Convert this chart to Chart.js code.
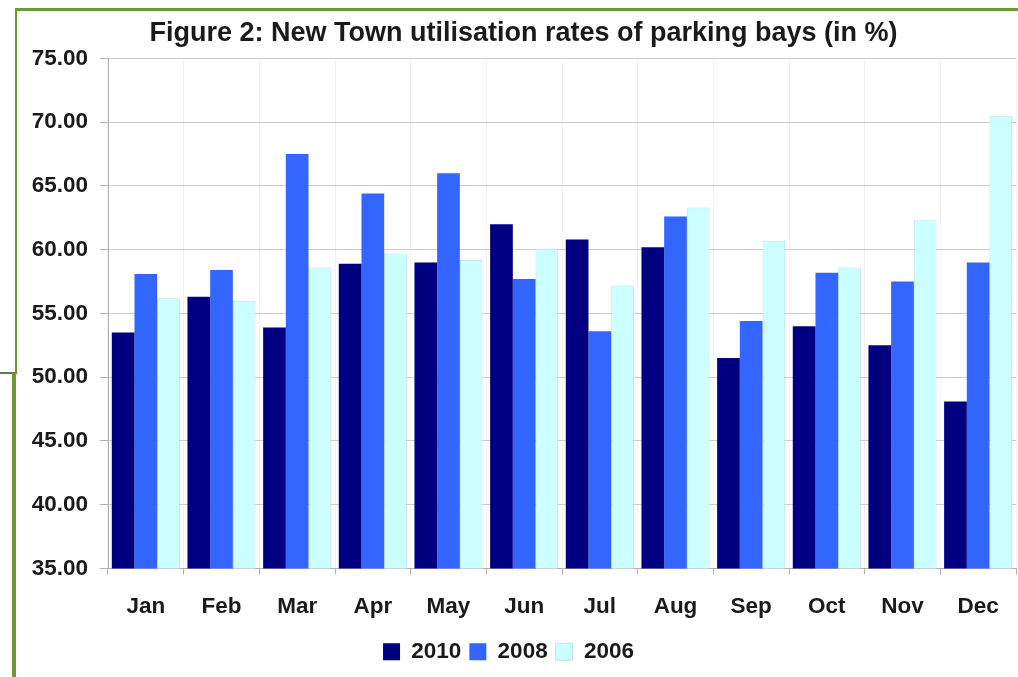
<!DOCTYPE html>
<html>
<head>
<meta charset="utf-8">
<script src="https://cdn.jsdelivr.net/npm/chart.js@4/dist/chart.umd.min.js"></script>
<style>
    html, body { margin: 0; padding: 0; background: #ffffff; }
    #wrap { position: relative; width: 1018px; height: 677px; overflow: hidden; }
    #chart { position: absolute; left: 0; top: 0; }
    .frame { position: absolute; background: #6b9a35; }
</style>
</head>
<body>
<div id="wrap">
    <canvas id="chart" width="1018" height="677"></canvas>
    <!-- green page frame around the figure -->
    <div class="frame" style="left:15px; top:8px; width:1003px; height:3px;"></div>
    <div class="frame" style="left:15px; top:8px; width:2px; height:366px;"></div>
    <div class="frame" style="left:0px; top:372px; width:17px; height:2px; background:#5f7f3c;"></div>
    <div class="frame" style="left:12px; top:373px; width:4px; height:304px;"></div>
</div>
<script>
// month labels and utilisation rates (%)
const months = ['Jan', 'Feb', 'Mar', 'Apr', 'May', 'Jun', 'Jul', 'Aug', 'Sep', 'Oct', 'Nov', 'Dec'];
const rates2010 = [53.5, 56.3, 53.9, 58.9, 59.0, 62.0, 60.8, 60.2, 51.5, 54.0, 52.5, 48.1];
const rates2008 = [58.1, 58.4, 67.5, 64.4, 66.0, 57.7, 53.6, 62.6, 54.4, 58.2, 57.5, 59.0];
const rates2006 = [56.2, 56.0, 58.6, 59.7, 59.2, 60.1, 57.2, 63.3, 60.7, 58.6, 62.3, 70.5];
const yTicks = [35, 40, 45, 50, 55, 60, 65, 70, 75];

const fontFamily = 'Arial, "Liberation Sans", sans-serif';
const labelFont = { family: fontFamily, size: 22.5, weight: 'bold' };

// the legend in the figure sits a bit left of the title's centre
const legendShift = {
    id: 'legendShift',
    afterLayout: function (chart) {
        chart.legend.left -= 15;
        chart.legend.right -= 15;
    }
};

const ctx = document.getElementById('chart').getContext('2d');
const chart = new Chart(ctx, {
    type: 'bar',
    data: {
        labels: months,
        datasets: [{
            label: '2010',
            data: rates2010,
            backgroundColor: '#000080',
            borderWidth: 0
        }, {
            label: '2008',
            data: rates2008,
            backgroundColor: '#3366ff',
            borderWidth: 0
        }, {
            label: '2006',
            data: rates2006,
            backgroundColor: '#ccffff',
            borderColor: '#b9e6e8',
            borderWidth: 1
        }]
    },
    options: {
        responsive: false,
        animation: false,
        layout: {
            padding: { left: 31, right: 2, top: 0, bottom: 4 }
        },
        datasets: {
            bar: { categoryPercentage: 0.9, barPercentage: 1.0 }
        },
        plugins: {
            title: {
                display: true,
                text: 'Figure 2: New Town utilisation rates of parking bays (in %)',
                color: '#1a1a1a',
                font: { family: fontFamily, size: 27, weight: 'bold' },
                padding: { top: 17, bottom: 9 }
            },
            legend: {
                position: 'bottom',
                labels: {
                    color: '#1a1a1a',
                    font: labelFont,
                    boxWidth: 17,
                    boxHeight: 17,
                    padding: 8
                }
            },
            tooltip: { enabled: false }
        },
        scales: {
            x: {
                afterFit: function (axis) {
                    axis.height -= 7;
                },
                grid: {
                    display: true,
                    offset: true,
                    color: 'rgba(0,0,0,0.05)',
                    tickColor: '#b0b0b0',
                    tickLength: 6
                },
                border: { display: true, color: '#b0b0b0' },
                ticks: {
                    color: '#1a1a1a',
                    font: labelFont,
                    padding: 19
                }
            },
            y: {
                min: 35,
                max: 75,
                afterBuildTicks: function (axis) {
                    axis.ticks = yTicks.map(v => ({ value: v }));
                },
                afterFit: function (axis) {
                    axis.width = 77;
                },
                grid: {
                    color: '#cccccc',
                    tickColor: '#b0b0b0',
                    tickLength: 8
                },
                border: { display: true, color: '#b0b0b0' },
                ticks: {
                    color: '#1a1a1a',
                    font: labelFont,
                    padding: 12,
                    callback: function (value) {
                        return Number(value).toFixed(2);
                    }
                }
            }
        }
    },
    plugins: [legendShift]
});
</script>
</body>
</html>
